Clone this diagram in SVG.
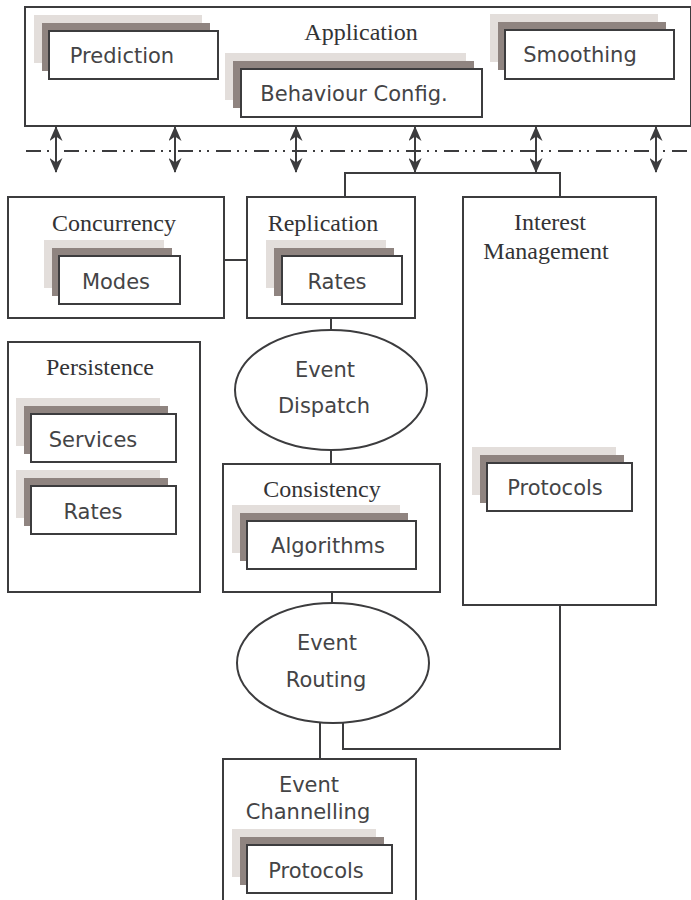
<svg xmlns="http://www.w3.org/2000/svg" width="691" height="900" viewBox="0 0 691 900">
<style>
.box{fill:#fff;stroke:#3c3c3e;stroke-width:2}
.lt{fill:#e3dedb}
.dk{fill:#8f8480}
.in{fill:#fff;stroke:#3c3c3e;stroke-width:2}
.ln{fill:none;stroke:#3c3c3e;stroke-width:2}
.s{font-family:"DejaVu Sans",sans-serif;font-size:21px;fill:#444446;text-anchor:middle}
.t{font-family:"Liberation Serif",serif;font-size:24px;fill:#333335;text-anchor:middle}
</style>
<defs>
<marker id="ah" viewBox="0 0 15 13" refX="14" refY="6.5" markerWidth="15" markerHeight="13" markerUnits="userSpaceOnUse" orient="auto-start-reverse">
<path d="M0,0 L15,6.5 L0,13 L4.5,6.5 Z" fill="#3c3c3e"/>
</marker>
</defs>
<rect width="691" height="900" fill="#fff"/>

<g id="application">
<rect class="box" x="25" y="7" width="666" height="119"/>
<text class="t" x="361" y="40">Application</text>
</g>
<g id="prediction">
<rect class="lt" x="34" y="15" width="168" height="48"/>
<rect class="dk" x="42" y="23" width="168" height="48"/>
<rect class="in" x="49" y="31" width="169" height="48"/>
<text class="s" x="122" y="63">Prediction</text>
</g>
<g id="behaviour">
<rect class="lt" x="225" y="53" width="241" height="47"/>
<rect class="dk" x="233" y="61" width="241" height="47"/>
<rect class="in" x="241" y="69" width="241" height="48"/>
<text class="s" x="354" y="101">Behaviour Config.</text>
</g>
<g id="smoothing">
<rect class="lt" x="490" y="14" width="168" height="48"/>
<rect class="dk" x="498" y="22" width="168" height="48"/>
<rect class="in" x="505" y="30" width="169" height="49"/>
<text class="s" x="580" y="62">Smoothing</text>
</g>

<g id="connectors">
<line class="ln" x1="26" y1="151" x2="691" y2="151" stroke-dasharray="15 6 2 6 2 7"/>
<line class="ln" x1="56" y1="127" x2="56" y2="172" marker-start="url(#ah)" marker-end="url(#ah)"/>
<line class="ln" x1="175" y1="127" x2="175" y2="172" marker-start="url(#ah)" marker-end="url(#ah)"/>
<line class="ln" x1="296" y1="127" x2="296" y2="172" marker-start="url(#ah)" marker-end="url(#ah)"/>
<line class="ln" x1="415" y1="127" x2="415" y2="172" marker-start="url(#ah)" marker-end="url(#ah)"/>
<line class="ln" x1="536" y1="127" x2="536" y2="172" marker-start="url(#ah)" marker-end="url(#ah)"/>
<line class="ln" x1="656" y1="127" x2="656" y2="172" marker-start="url(#ah)" marker-end="url(#ah)"/>
<polyline class="ln" points="345,197 345,173 560,173 560,197"/>
<line class="ln" x1="224" y1="260" x2="247" y2="260"/>
<line class="ln" x1="331" y1="318" x2="331" y2="330"/>
<line class="ln" x1="331" y1="449" x2="331" y2="464"/>
<line class="ln" x1="332" y1="592" x2="332" y2="603"/>
<line class="ln" x1="320" y1="722" x2="320" y2="759"/>
<polyline class="ln" points="560,605 560,749 343,749 343,722"/>
</g>

<g id="concurrency">
<rect class="box" x="8" y="197" width="216" height="121"/>
<text class="t" x="114" y="231">Concurrency</text>
<rect class="lt" x="44" y="240" width="120" height="48"/>
<rect class="dk" x="52" y="248" width="120" height="48"/>
<rect class="in" x="59" y="256" width="121" height="48"/>
<text class="s" x="116" y="289">Modes</text>
</g>
<g id="replication">
<rect class="box" x="247" y="197" width="168" height="121"/>
<text class="t" x="323" y="231">Replication</text>
<rect class="lt" x="266" y="240" width="120" height="48"/>
<rect class="dk" x="274" y="248" width="120" height="48"/>
<rect class="in" x="282" y="256" width="120" height="48"/>
<text class="s" x="337" y="289">Rates</text>
</g>
<g id="interest">
<rect class="box" x="463" y="197" width="193" height="408"/>
<text class="t" x="550" y="230">Interest</text>
<text class="t" x="546" y="259">Management</text>
<rect class="lt" x="472" y="447" width="144" height="48"/>
<rect class="dk" x="480" y="455" width="144" height="48"/>
<rect class="in" x="487" y="463" width="145" height="48"/>
<text class="s" x="555" y="495">Protocols</text>
</g>
<g id="persistence">
<rect class="box" x="8" y="342" width="192" height="250"/>
<text class="t" x="100" y="375">Persistence</text>
<rect class="lt" x="16" y="398" width="144" height="48"/>
<rect class="dk" x="24" y="406" width="144" height="48"/>
<rect class="in" x="31" y="414" width="145" height="48"/>
<text class="s" x="93" y="447">Services</text>
<rect class="lt" x="16" y="470" width="144" height="48"/>
<rect class="dk" x="24" y="478" width="144" height="48"/>
<rect class="in" x="31" y="486" width="145" height="48"/>
<text class="s" x="93" y="519">Rates</text>
</g>
<g id="event-dispatch">
<ellipse class="box" cx="331" cy="390" rx="96" ry="60"/>
<text class="s" x="325" y="377">Event</text>
<text class="s" x="324" y="413">Dispatch</text>
</g>
<g id="consistency">
<rect class="box" x="223" y="464" width="217" height="128"/>
<text class="t" x="322" y="497">Consistency</text>
<rect class="lt" x="232" y="505" width="168" height="48"/>
<rect class="dk" x="240" y="513" width="168" height="48"/>
<rect class="in" x="247" y="521" width="169" height="48"/>
<text class="s" x="328" y="553">Algorithms</text>
</g>
<g id="event-routing">
<ellipse class="box" cx="333" cy="663" rx="96" ry="60"/>
<text class="s" x="327" y="650">Event</text>
<text class="s" x="326" y="687">Routing</text>
</g>
<g id="event-channelling">
<polyline class="ln" points="223,901 223,759 416,759 416,901"/>
<text class="s" x="309" y="792">Event</text>
<text class="s" x="308" y="819">Channelling</text>
<rect class="lt" x="232" y="829" width="144" height="48"/>
<rect class="dk" x="240" y="837" width="144" height="48"/>
<rect class="in" x="247" y="845" width="145" height="48"/>
<text class="s" x="316" y="878">Protocols</text>
</g>
</svg>
